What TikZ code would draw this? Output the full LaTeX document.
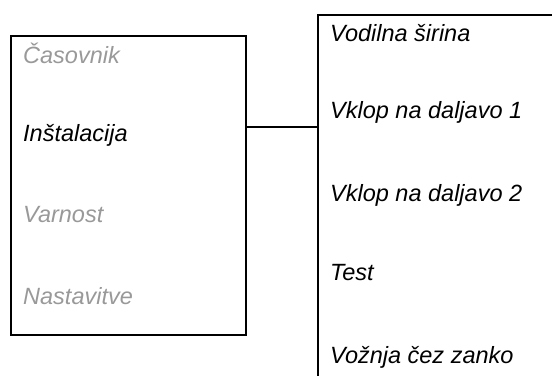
\documentclass[tikz,border=0pt]{standalone}
\usepackage{fontspec}
\setmainfont{Liberation Sans}
\definecolor{dimtext}{HTML}{999999}
\begin{document}
\begin{tikzpicture}[x=1pt,y=-1pt,
  box/.style={draw=black,line width=1.6pt},
  item/.style={anchor=base west,inner sep=0pt,font=\fontsize{23.5}{28}\selectfont\itshape},
  dim/.style={item,text=dimtext}]
\useasboundingbox (0,0) rectangle (552,376);
\node[box,minimum width=235pt,minimum height=299pt,anchor=north west,inner sep=0pt] (L) at (10,35) {};
\coordinate (R) at (318,15);
\coordinate (Rend) at (552,15);
\coordinate (Rbot) at (318,376);
\draw[line width=1.6pt] (Rend) -- (R) -- (Rbot);
\coordinate (c) at (0,127);
\draw[line width=1.6pt] (L.east |- c) -- (R |- c);
\node[dim] (t1) at (23,63) {Časovnik};
\node[item] (t2) at (23,141) {Inštalacija};
\node[dim] (t3) at (23,222) {Varnost};
\node[dim] (t4) at (23,304) {Nastavitve};
\node[item] (r1) at (330,41) {Vodilna širina};
\node[item] (r2) at (330,118) {Vklop na daljavo 1};
\node[item] (r3) at (330,201) {Vklop na daljavo 2};
\node[item] (r4) at (330,280) {Test};
\node[item] (r5) at (330,363) {Vožnja čez zanko};
\end{tikzpicture}
\end{document}
